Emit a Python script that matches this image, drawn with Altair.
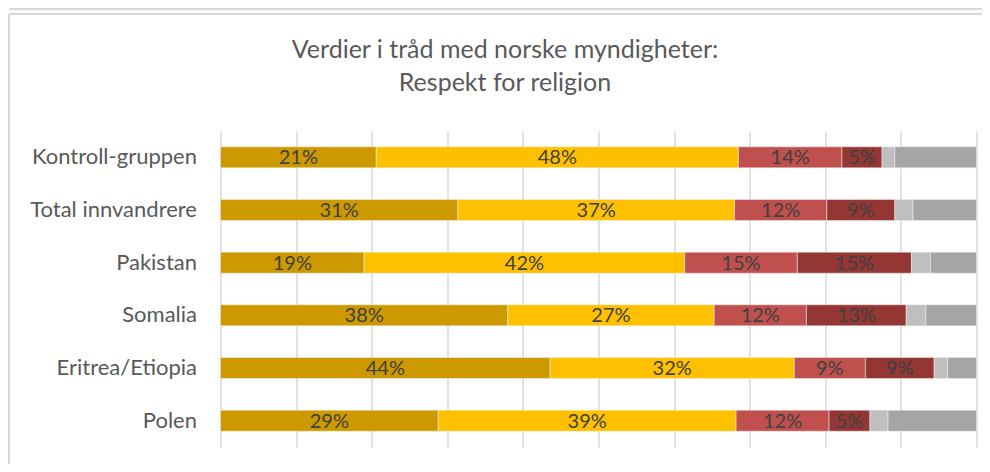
import altair as alt
import pandas as pd

categories = ["Kontroll-gruppen", "Total innvandrere", "Pakistan", "Somalia", "Eritrea/Etiopia", "Polen"]
series = ["Helt enig", "Delvis enig", "Delvis uenig", "Helt uenig", "Vet ikke", "Ubesvart"]
colors = ["#CC9900", "#FFC000", "#C0504D", "#943634", "#BFBFBF", "#A5A5A5"]

values = {
    "Kontroll-gruppen":  [20.6, 47.9, 13.7, 5.3, 1.7, 10.8],
    "Total innvandrere": [31.4, 36.6, 12.2, 9.0, 2.4, 8.4],
    "Pakistan":          [19.0, 42.4, 14.9, 15.1, 2.5, 6.1],
    "Somalia":           [38.0, 27.3, 12.2, 13.2, 2.6, 6.7],
    "Eritrea/Etiopia":   [43.6, 32.3, 9.4, 9.1, 1.8, 3.8],
    "Polen":             [28.8, 39.4, 12.3, 5.4, 2.4, 11.7],
}
labelled = series[:4]

rows = []
for c in categories:
    for i, s in enumerate(series):
        rows.append({"cat": c, "series": s, "idx": i, "value": values[c][i]})
df = pd.DataFrame(rows)

FONT = "Lato"

base = alt.Chart(df).transform_stack(
    stack="value", groupby=["cat"], as_=["start", "end"], sort=[alt.SortField("idx", "ascending")]
)

y_enc = alt.Y("cat:N", sort=categories, title=None,
              scale=alt.Scale(paddingInner=0.6, paddingOuter=0.3),
              axis=alt.Axis(domain=False, ticks=False, labelPadding=24, labelFontSize=22,
                            labelFont=FONT, labelColor="#595959", grid=False))

bars = base.mark_bar(stroke="#F2F2F2", strokeWidth=0.5).encode(
    x=alt.X("start:Q", scale=alt.Scale(domain=[0, 100], nice=False), title=None,
            axis=alt.Axis(values=list(range(0, 101, 10)), labels=False, ticks=False, domain=False,
                          grid=True, gridColor="#D9D9D9", gridWidth=1.5)),
    x2="end:Q",
    y=y_enc,
    color=alt.Color("series:N", scale=alt.Scale(domain=series, range=colors), legend=None),
)

texts = base.transform_filter(
    alt.FieldOneOfPredicate(field="series", oneOf=labelled)
).transform_calculate(
    mid="(datum.start + datum.end) / 2",
    lab="format(datum.value, '.0f') + '%'",
).mark_text(font=FONT, fontSize=20, color="#404040", baseline="middle", dy=1).encode(
    x=alt.X("mid:Q"),
    y=alt.Y("cat:N", sort=categories),
    text="lab:N",
)

frame_df = pd.DataFrame({"k": [0]})
fr = alt.Chart(frame_df)
FC = "#D9D9D9"
frame = alt.layer(
    fr.mark_rule(color=FC, strokeWidth=2).encode(x=alt.value(-211.5), x2=alt.value(800), y=alt.value(-117)),
    fr.mark_rule(color=FC, strokeWidth=2).encode(x=alt.value(-211.5), y=alt.value(-117), y2=alt.value(360)),
    fr.mark_rule(color=FC, strokeWidth=2).encode(x=alt.value(-211.5), x2=alt.value(800), y=alt.value(-122)),
)

chart = alt.layer(frame, bars, texts).properties(
    width=756, height=316,
    autosize=alt.AutoSizeParams(type="none"),
    padding={"left": 212.5, "top": 123, "right": 5, "bottom": 17},
    title=alt.TitleParams(
        text=["Verdier i tråd med norske myndigheter:", "Respekt for religion"],
        anchor="middle", frame="group", dx=-93.5, offset=-88,
        fontSize=25, font=FONT, fontWeight="normal", color="#595959", lineHeight=33,
    ),
).configure_view(stroke=None)

chart.save("out.html", embed_options={"renderer": "svg", "actions": False})
